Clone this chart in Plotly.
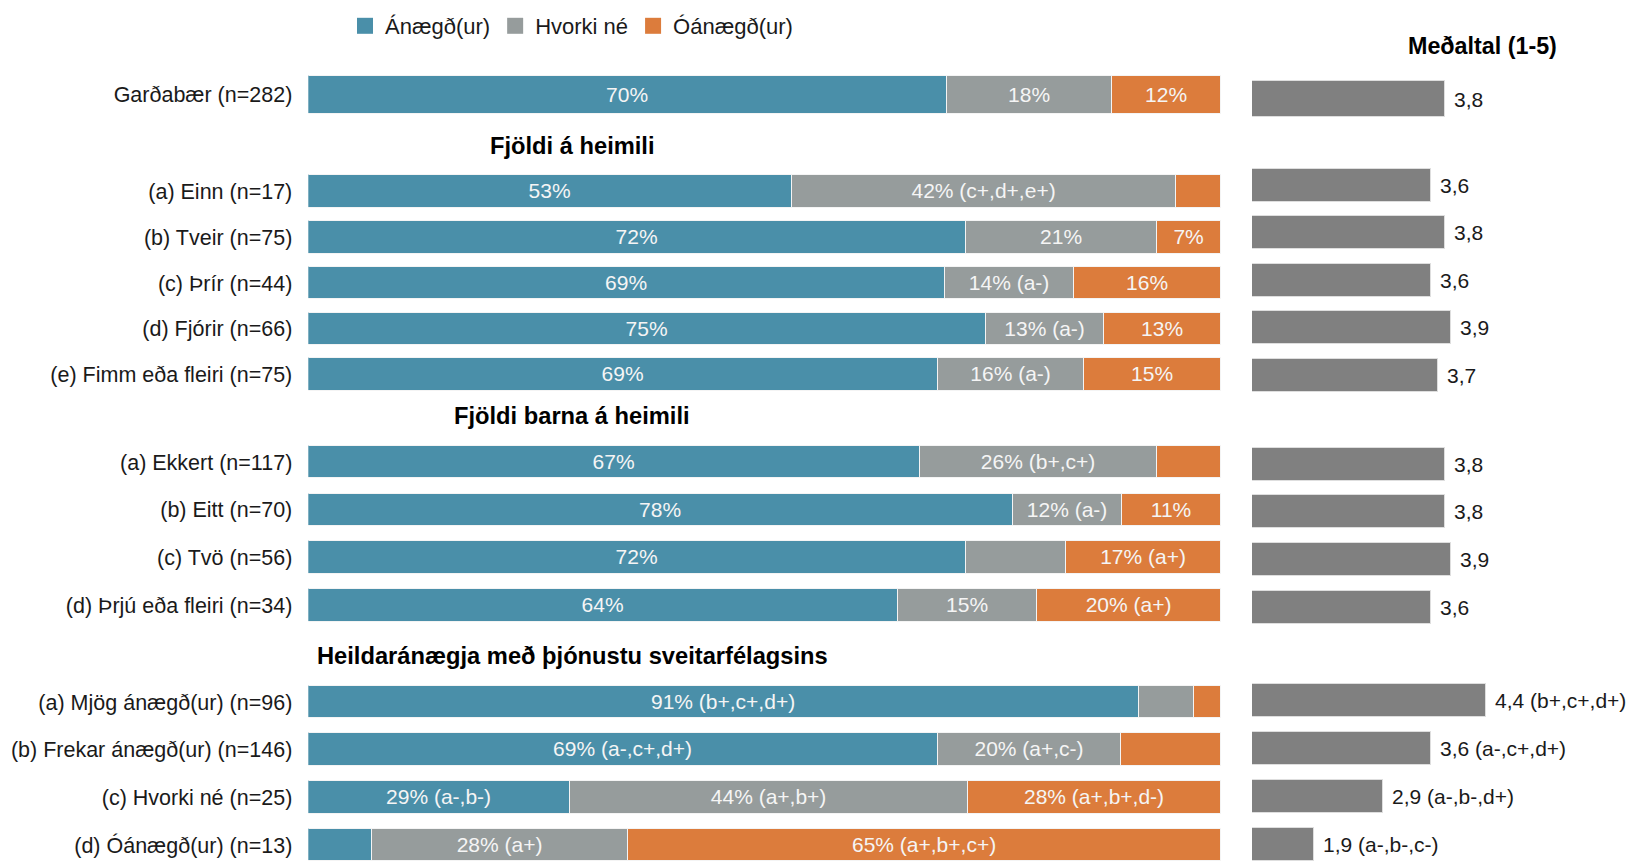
import plotly.graph_objects as go

# ---------------- data ----------------
row_labels = [
    "Garðabær (n=282)",
    "(a) Einn (n=17)", "(b) Tveir (n=75)", "(c) Þrír (n=44)", "(d) Fjórir (n=66)", "(e) Fimm eða fleiri (n=75)",
    "(a) Ekkert (n=117)", "(b) Eitt (n=70)", "(c) Tvö (n=56)", "(d) Þrjú eða fleiri (n=34)",
    "(a) Mjög ánægð(ur) (n=96)", "(b) Frekar ánægð(ur) (n=146)", "(c) Hvorki né (n=25)", "(d) Óánægð(ur) (n=13)",
]
row_group = [0, 1, 1, 1, 1, 1, 2, 2, 2, 2, 3, 3, 3, 3]
group_titles = ["", "Fjöldi á heimili", "Fjöldi barna á heimili", "Heildaránægja með þjónustu sveitarfélagsins"]
series_names = ["Ánægð(ur)", "Hvorki né", "Óánægð(ur)"]

anaegd = [70, 53, 72, 69, 75, 69, 67, 78, 72, 64, 91, 69, 29, 7]
hvorki = [18, 42, 21, 14, 13, 16, 26, 12, 11, 15, 6, 20, 44, 28]
oanaegd = [12, 5, 7, 16, 13, 15, 7, 11, 17, 20, 3, 11, 28, 65]

anaegd_text = ["70%", "53%", "72%", "69%", "75%", "69%", "67%", "78%", "72%", "64%",
               "91% (b+,c+,d+)", "69% (a-,c+,d+)", "29% (a-,b-)", ""]
hvorki_text = ["18%", "42% (c+,d+,e+)", "21%", "14% (a-)", "13% (a-)", "16% (a-)", "26% (b+,c+)", "12% (a-)", "",
               "15%", "", "20% (a+,c-)", "44% (a+,b+)", "28% (a+)"]
oanaegd_text = ["12%", "", "7%", "16%", "13%", "15%", "", "11%", "17% (a+)", "20% (a+)", "", "",
                "28% (a+,b+,d-)", "65% (a+,b+,c+)"]

medaltal = [3.8, 3.6, 3.8, 3.6, 3.9, 3.7, 3.8, 3.8, 3.9, 3.6, 4.4, 3.6, 2.9, 1.9]
medaltal_text = ["3,8", "3,6", "3,8", "3,6", "3,9", "3,7", "3,8", "3,8", "3,9", "3,6",
                 "4,4 (b+,c+,d+)", "3,6 (a-,c+,d+)", "2,9 (a-,b-,d+)", "1,9 (a-,b-,c-)"]
medaltal_title = "Meðaltal (1-5)"
scale_min, scale_max = 1, 5

# ---------------- layout constants (pixel units on the y axis) ----------------
W, H = 1633, 861
FONT = "Liberation Sans, Arial, Helvetica, sans-serif"
C_BLUE, C_GREY, C_ORANGE, C_MEAN = "#4a8fa9", "#969c9c", "#dc7c3c", "#808080"
TXT = "#1a1a1a"

top_main, top_mean = 94.5, 99.0
grp_main_start = {1: 191.5, 2: 462.0, 3: 702.0}
grp_main_step = {1: 45.8, 2: 47.8, 3: 47.7}
grp_mean_start = {1: 185.0, 2: 464.0, 3: 700.0}
grp_mean_step = {1: 47.6, 2: 47.7, 3: 48.0}
heading_y = {1: 146.0, 2: 415.5, 3: 656.0}

main_y, mean_y, main_w, mean_w = [], [], [], []
counter = {}
for g in row_group:
    if g == 0:
        main_y.append(top_main); mean_y.append(top_mean)
        main_w.append(38); mean_w.append(36)
    else:
        i = counter.get(g, 0)
        counter[g] = i + 1
        main_y.append(grp_main_start[g] + i * grp_main_step[g])
        mean_y.append(grp_mean_start[g] + i * grp_mean_step[g])
        main_w.append(32.5); mean_w.append(33)

# normalise each row to 100 %
tot = [a + b + c for a, b, c in zip(anaegd, hvorki, oanaegd)]
norm = lambda s: [v / t * 100 for v, t in zip(s, tot)]

fig = go.Figure()
for name, vals, txt, col in [
    (series_names[0], anaegd, anaegd_text, C_BLUE),
    (series_names[1], hvorki, hvorki_text, C_GREY),
    (series_names[2], oanaegd, oanaegd_text, C_ORANGE),
]:
    fig.add_trace(go.Bar(
        name=name, orientation="h", x=norm(vals), y=main_y, width=main_w,
        marker=dict(color=col, line=dict(color="#f4f4f4", width=1.5)),
        text=txt, textposition="inside", insidetextanchor="middle", textangle=0,
        textfont=dict(family=FONT, size=21, color="#f5f5f5"),
        constraintext="none", hoverinfo="skip", xaxis="x", yaxis="y",
        showlegend=False, legendgroup=name,
    ))
    # legend entry (larger square symbol)
    fig.add_trace(go.Scatter(
        name=name, x=[None], y=[None], mode="markers", legendgroup=name,
        marker=dict(symbol="square", size=16, color=col), xaxis="x", yaxis="y",
        hoverinfo="skip",
    ))

fig.add_trace(go.Bar(
    orientation="h", x=[v - scale_min for v in medaltal], base=scale_min, y=mean_y, width=mean_w,
    marker=dict(color=C_MEAN, line=dict(color="#dedede", width=1)),
    showlegend=False, hoverinfo="skip", xaxis="x2", yaxis="y",
))

annotations = []
for v, y, t in zip(medaltal, mean_y, medaltal_text):
    annotations.append(dict(x=v, y=y, xref="x2", yref="y", text=t, showarrow=False,
                            xanchor="left", yanchor="middle", xshift=7,
                            font=dict(family=FONT, size=21, color=TXT)))
for g, yy in heading_y.items():
    annotations.append(dict(x=572 / W, y=yy, xref="paper", yref="y", text="<b>%s</b>" % group_titles[g],
                            showarrow=False, xanchor="center", yanchor="middle",
                            font=dict(family=FONT, size=23.7, color="#000000")))
annotations.append(dict(x=1482 / W, y=46, xref="paper", yref="y", text="<b>%s</b>" % medaltal_title,
                        showarrow=False, xanchor="center", yanchor="middle",
                        font=dict(family=FONT, size=23.3, color="#000000")))

fig.update_layout(
    width=W, height=H, barmode="stack", bargap=0,
    margin=dict(l=0, r=0, t=0, b=0),
    paper_bgcolor="white", plot_bgcolor="white",
    font=dict(family=FONT, size=21, color=TXT),
    xaxis=dict(domain=[308.3 / W, 1221.6 / W], range=[0, 100], visible=False, fixedrange=True),
    xaxis2=dict(domain=[1252 / W, 1527 / W], range=[scale_min, scale_max], visible=False,
                anchor="y", fixedrange=True),
    yaxis=dict(range=[H, 0], domain=[0, 1], tickvals=main_y, ticktext=row_labels, ticks="",
               showgrid=False, zeroline=False, showline=False, ticklabelstandoff=15,
               tickfont=dict(family=FONT, size=21.5, color=TXT), fixedrange=True),
    legend=dict(orientation="h", x=345 / W, y=1 - 26 / H, xanchor="left", yanchor="middle",
                font=dict(family=FONT, size=22, color=TXT), traceorder="normal",
                itemsizing="trace", bgcolor="rgba(0,0,0,0)"),
    annotations=annotations,
    showlegend=True,
)

fig.write_html("out.html", config={"displayModeBar": False},
               post_script="document.body.style.margin='0';document.body.style.overflow='hidden';")
